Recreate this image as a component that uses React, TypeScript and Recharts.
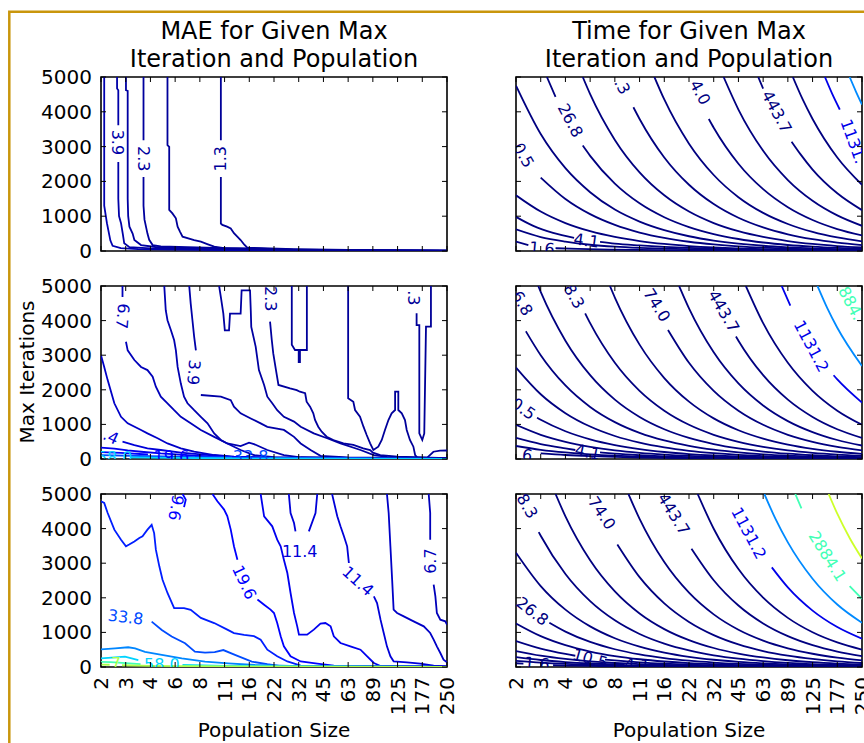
import { ComposedChart, Line, Scatter, XAxis, YAxis, ReferenceArea } from "recharts"

// population sizes, one evenly spaced slot each (log scale in the original)
const populations = ["2", "3", "4", "6", "8", "11", "16", "22", "32", "45", "63", "89", "125", "177", "250"]
const iterTicks = [0, 1000, 2000, 3000, 4000, 5000]

type Pt = [number, number] | null
type Contour = { level: number; pts: Pt[] }
type Label = { x: number; y: number; text: string; angle: number; level: number }

// contour paths as [population slot, max iterations]; null = gap under a label

// ---- MAE, first row
const maeTop: Contour[] = [
  { level: 5.1, pts: [[0.13, 5000], [0.13, 1300], [0.24, 800], [0.38, 300], [0.47, 150], [0.8, 80], [1.5, 55], [3, 40], [5, 28], [7.8, 14], [14, 4]] },
  { level: 3.9, pts: [[0.65, 5000], [0.65, 4670], [0.7, 4620], [0.7, 3610], null, [0.7, 2560], [0.7, 1500], [0.73, 1000], [0.81, 800], [0.88, 500], [0.94, 220], [1.15, 110], [2, 75], [4, 50], [6, 36], [7.8, 20], [14, 6]] },
  { level: 3.0, pts: [[1.01, 5000], [1.01, 4620], [1.08, 4600], [1.08, 1500], [1.1, 1000], [1.15, 700], [1.28, 500], [1.35, 315], [1.62, 170], [2.2, 115], [4, 75], [6, 50], [7.8, 27], [14, 8]] },
  { level: 2.3, pts: [[1.72, 5000], [1.72, 3180], null, [1.72, 2130], [1.72, 1300], [1.76, 900], [1.88, 500], [1.95, 320], [2.09, 170], [2.42, 130], [3.5, 110], [5, 85], [6.5, 65], [7.8, 34], [14, 10]] },
  { level: 1.7, pts: [[2.69, 5000], [2.69, 3040], [2.76, 2990], [2.76, 1180], [2.89, 1080], [3.03, 940], [3.1, 700], [3.2, 550], [3.3, 410], [3.77, 315], [4.04, 270], [4.3, 200], [4.58, 125], [4.98, 80], [6, 70], [7.8, 42], [10, 25], [14, 11]] },
  { level: 1.3, pts: [[4.85, 5000], [4.85, 3180], null, [4.85, 2130], [4.85, 790], [4.91, 750], [5.1, 700], [5.25, 650], [5.38, 510], [5.65, 315], [5.8, 180], [5.92, 95], [6.5, 80], [7.8, 50], [10, 30], [14, 12]] },
]
const maeTopLabels: Label[] = [
  { x: 0.67, y: 3120, text: "3.9", angle: 90, level: 3.9 },
  { x: 1.73, y: 2650, text: "2.3", angle: 90, level: 2.3 },
  { x: 4.85, y: 2650, text: "1.3", angle: -90, level: 1.3 },
]

// ---- MAE, second row
const maeMid: Contour[] = [
  { level: 8.8, pts: [[0, 3000], [0.13, 2660], [0.27, 2280], [0.54, 1610], [0.81, 1220], [1.08, 1030], [1.62, 840], [1.88, 740], [2.29, 600], [2.69, 450], [3.23, 310], [3.77, 210], [4.58, 115], [5.38, 67], [7, 40], [10, 25], [14, 12]] },
  { level: 6.7, pts: [[0.87, 5000], [0.87, 4680], null, [1.01, 3390], [1.08, 3140], [1.35, 2860], [1.62, 2660], [1.88, 2570], [2.09, 2380], [2.22, 2090], [2.42, 1800], [2.69, 1610], [2.96, 1410], [3.23, 1220], [3.63, 1030], [4.04, 840], [4.58, 640], [5.11, 450], [5.65, 260], [6.19, 115], [7, 55], [10, 30], [14, 14]] },
  { level: 5.1, pts: [[2.56, 5000], [2.62, 4300], [2.69, 4010], [2.83, 3720], [2.96, 3430], [3.03, 3140], [3.1, 2660], [3.23, 2180], [3.36, 1800], [3.5, 1610], [3.77, 1410], [4.04, 1220], [4.31, 1030], [4.58, 740], [4.85, 550], [5.11, 450], [5.65, 375], [5.99, 470], [6.19, 430], [6.73, 260], [7.4, 115], [8.08, 50], [10, 35], [14, 16]] },
  { level: 3.9, pts: [[3.57, 5000], [3.63, 4490], [3.7, 4010], [3.77, 3530], [3.84, 3140], null, [4.04, 1850], [4.85, 1800], [5.25, 1700], [5.38, 1510], [5.65, 1320], [6.06, 1170], [6.46, 1030], [6.73, 930], [7.4, 840], [7.81, 640], [8.08, 450], [8.48, 260], [8.88, 90], [10, 45], [14, 18]] },
  { level: 3.0, pts: [[4.78, 5000], [4.85, 4680], [4.95, 4200], [5.01, 3720], [5.18, 3720], [5.22, 4200], [5.65, 4200], [5.69, 4875], [6.03, 4875], [6.06, 4300], [6.08, 3820], [6.26, 3240], [6.39, 2570], [6.6, 2140], [6.73, 1800], [6.93, 1610], [7.13, 1410], [7.4, 1220], [7.81, 1080], [8.08, 930], [8.61, 740], [9.15, 600], [9.69, 450], [10.5, 260], [11.04, 115], [11.57, 60], [14, 20]] },
  { level: 2.3, pts: [[6.84, 3970], [6.91, 3440], [6.97, 3050], [7.08, 2570], [7.18, 2140], [7.65, 2040], [7.92, 1990], [8.05, 1945], [8.26, 1900], [8.32, 1656], [8.46, 1512], [8.59, 1321], [8.66, 1127], [8.79, 934], [8.93, 789], [9.13, 645], [9.4, 549], [9.81, 454], [10.21, 405], [10.61, 309], [10.89, 260], [11.0, 182], [11.3, 110], [12, 70], [14, 25]] },
  { level: 1.7, pts: [[7.72, 5000], [7.72, 3300], [7.85, 3150], [8.0, 3150], [8.0, 2800], [8.05, 2800], [8.05, 3150], [8.33, 3150], [8.33, 5000]] },
  { level: 1.7, pts: [[10.0, 5000], [10.0, 1754], [10.21, 1656], [10.28, 1416], [10.48, 1223], [10.62, 934], [10.75, 694], [10.89, 453], [11.02, 260], [11.22, 356], [11.36, 549], [11.49, 838], [11.63, 1127], [11.76, 1320], [11.9, 1416], [11.9, 1945], [12.03, 1945], [12.03, 1416], [12.17, 1320], [12.3, 1127], [12.37, 838], [12.5, 549], [12.64, 356], [12.71, 116], [12.8, 40], [13.2, 40], [13.45, 210], [13.72, 240], [14, 245]] },
  { level: 1.3, pts: [[12.77, 4210], [12.77, 3870], [12.88, 3870], [12.88, 740], [13.0, 549], [13.08, 740], [13.15, 3825], [13.35, 3825], [13.35, 5000]] },
  { level: 11.4, pts: [[0.87, 500], [1.35, 404], [1.88, 308], [2.42, 260], [3.23, 183], [4.04, 135], [5.38, 50], [7, 32], [10, 18], [14, 8]] },
  { level: 15.0, pts: [[0, 330], [0.54, 300], [1.08, 250], [1.62, 210], [2.42, 160], [3.5, 110], [4.5, 70], [6, 38], [8, 22], [11, 12], [14, 5]] },
  { level: 19.6, pts: [[0, 200], [0.8, 175], [1.9, 130], null, [3.8, 70], [5, 50], [7, 28], [10, 14], [14, 5]] },
  { level: 33.8, pts: [[0, 110], [2, 80], [4, 55], [5.3, 45], null, [6.8, 25], [9, 14], [14, 4]] },
  { level: 58.0, pts: [[1.2, 45], [3, 30], [6, 15], [10, 8], [14, 3]] },
]
const maeMidLabels: Label[] = [
  { x: 0.87, y: 4130, text: "6.7", angle: 95, level: 6.7 },
  { x: 3.75, y: 2500, text: "3.9", angle: 95, level: 3.9 },
  { x: 6.87, y: 4630, text: "2.3", angle: 90, level: 2.3 },
  { x: 12.64, y: 4660, text: ".3", angle: 90, level: 1.3 },
  { x: 0.4, y: 640, text: ".4", angle: 25, level: 11.4 },
  { x: 0.55, y: 55, text: "58.0", angle: 0, level: 58.0 },
  { x: 2.85, y: 75, text: "19.6", angle: 0, level: 19.6 },
  { x: 6.05, y: 60, text: "33.8", angle: 0, level: 33.8 },
]

// ---- MAE, third row
const maeLow: Contour[] = [
  { level: 25.7, pts: [[0, 4790], [0.13, 4740], [0.27, 4450], [0.54, 3970], [0.81, 3680], [1.01, 3490], [1.14, 3540], [1.35, 3630], [1.55, 3730], [1.68, 3780], [1.88, 3970], [2.05, 4110], [2.15, 3870], [2.22, 3390], [2.36, 2910], [2.49, 2520], [2.69, 2140], [2.96, 1700], [3.36, 1700], [3.63, 1650], [4.04, 1420], [4.58, 1270], [5.11, 1080], [5.38, 980], [5.79, 930], [6.19, 890], [6.46, 790], [6.73, 500], [7.13, 310], [7.54, 160], [8.08, 40], [10, 20], [14, 8]] },
  { level: 19.6, pts: [[3.3, 5000], [3.43, 4840], [3.36, 4620]] },
  { level: 19.6, pts: [[4.51, 5000], [4.71, 4790], [4.98, 4550], [5.11, 4360], [5.25, 3970], [5.38, 3490], [5.52, 3100], null, [6.33, 1950], [6.6, 1800], [6.86, 1660], [7.0, 1560], [7.13, 1270], [7.27, 890], [7.4, 600], [7.67, 310], [8.08, 160], [8.75, 100], [9.42, 40], [14, 10]] },
  { level: 15.0, pts: [[6.46, 5000], [6.6, 4355], [6.93, 4066], [7.13, 3680], [7.27, 3488], [7.4, 3102], [7.54, 2717], [7.67, 2139], [7.81, 1561], [7.94, 1175], [8.01, 934], [8.34, 934], [8.61, 1079], [8.88, 1252], [9.08, 1272], [9.29, 1175], [9.42, 886], [9.69, 694], [10.09, 597], [10.5, 501], [10.77, 308], [11.04, 116], [11.31, 30], [14, 8]] },
  { level: 11.4, pts: [[7.6, 5000], [7.67, 4450], [7.81, 4160], [7.87, 3920], null, [8.41, 3920], [8.68, 4450], [8.75, 5000]] },
  { level: 11.4, pts: [[9.35, 5000], [9.56, 4355], [9.69, 4066], [9.83, 3777], [9.96, 3488], [10.03, 3006], null, [11.04, 2042], [11.17, 1850], [11.31, 1368], [11.44, 983], [11.57, 597], [11.71, 308], [11.84, 164], [12.38, 135], [12.92, 96], [13.46, 39], [14, 19]] },
  { level: 8.8, pts: [[11.57, 5000], [11.64, 4451], [11.71, 3488], [11.78, 2524], [11.84, 1657], [11.98, 1561], [12.25, 1464], [12.65, 1320], [13.06, 1175], [13.32, 983], [13.46, 790], [13.59, 597], [13.73, 405], [13.86, 212], [14, 135]] },
  { level: 6.7, pts: [[13.26, 5000], [13.32, 4451], [13.32, 3680], null, [13.46, 2380], [13.53, 2042], [13.59, 1561], [13.73, 1368], [13.93, 1320], [14, 1224]] },
  { level: 33.8, pts: [[2.05, 1310], [2.46, 1070], [2.86, 880], [3.4, 685], [3.8, 445], [4.21, 415], [4.6, 430], [4.95, 490], [5.42, 350], [6.1, 155], [6.73, 80], [7.2, 35], [8.1, 10], [14, 2]] },
  { level: 44.3, pts: [[0, 510], [0.57, 540], [1.1, 570], [1.38, 540], [1.78, 440], [2.46, 350], [3.27, 250], [4.21, 155], [5.15, 105], [6.23, 58], [8, 25], [14, 5]] },
  { level: 58.0, pts: [[0, 250], [0.57, 280], [0.97, 300], [1.24, 250], [1.51, 200], null, [3.3, 60], [5, 35], [8, 15], [14, 3]] },
  { level: 76.0, pts: [[0, 150], [0.4, 140], [1.0, 110], [1.6, 85], null, [3.3, 40], [5, 25], [8, 10], [14, 2]] },
  { level: 99.6, pts: [[0, 70], [0.35, 65], null, [0.85, 50], [2, 35], [4, 20], [8, 8], [14, 2]] },
]
const maeLowLabels: Label[] = [
  { x: 3.03, y: 4600, text: "9.6", angle: 100, level: 19.6 },
  { x: 5.8, y: 2450, text: "19.6", angle: 65, level: 19.6 },
  { x: 8.04, y: 3340, text: "11.4", angle: 0, level: 11.4 },
  { x: 10.4, y: 2480, text: "11.4", angle: 42, level: 11.4 },
  { x: 13.33, y: 3060, text: "6.7", angle: -90, level: 6.7 },
  { x: 1.0, y: 1440, text: "33.8", angle: 7, level: 33.8 },
  { x: 2.46, y: 75, text: "58.0", angle: 0, level: 58.0 },
  { x: 0.6, y: 95, text: "7", angle: 0, level: 99.6 },
]

// ---- Time, first row
const timeTop: Contour[] = [
  { level: 1806, pts: [[13.5, 5000], [13.75, 4590], [14, 4208]] },
  { level: 1131.2, pts: [[12.5, 5000], [12.8, 4507], [13.1, 4065]] },
  { level: 709, pts: [[11.2, 5000], [11.6, 4354], [12, 3794], [13, 2687], [14, 1903]] },
  { level: 443.7, pts: [[9.8, 5000], [10, 4666], null, [11.15, 3140], [11.5, 2790], [12, 2340], [13, 1658], [14, 1174]] },
  { level: 278, pts: [[8.4, 5000], [9, 4065], [10, 2879], [11, 2039], [12, 1444], [13, 1023], [14, 724]] },
  { level: 174, pts: [[7.8, 3794], [8, 3541], [9, 2508], [10, 1776], [11, 1258], [12, 891], [13, 631], [14, 447]] },
  { level: 109, pts: [[5.6, 5000], [6, 4354], [7, 3084], [8, 2184], [9, 1547], [10, 1095], [11, 776], [12, 549], [13, 389], [14, 276]] },
  { level: 68.3, pts: [[4.75, 4130], [5, 3794], [6, 2687], [7, 1903], [8, 1348], [9, 954], [10, 676], [11, 479], [12, 339], [13, 240], [14, 170]] },
  { level: 42.8, pts: [[2.7, 5000], [3, 4507], [4, 3192], [5, 2260], [6, 1601], [7, 1134], [8, 803], [9, 569], [10, 403], [11, 285], [12, 202], [13, 143], [14, 101]] },
  { level: 26.8, pts: [[1.25, 5000], [1.6, 4430], null, [2.7, 3030], [3, 2734], [4, 1936], [5, 1371], [6, 971], [7, 688], [8, 487], [9, 345], [10, 244], [11, 173], [12, 123], [13, 87], [14, 61]] },
  { level: 16.8, pts: [[0, 4750], [1, 3360], [2, 2380], [3, 1690], [4, 1190], [5, 846], [6, 600], [7, 424], [8, 300], [9, 213], [10, 151], [11, 107], [12, 76], [13, 54], [14, 38]] },
  { level: 10.5, pts: [[1, 2110], [2, 1495], [3, 1059], [4, 750], [5, 531], [6, 376], [7, 266], [8, 189], [9, 134], [10, 95], [11, 67], [12, 47], [13, 34], [14, 24]] },
  { level: 6.6, pts: [[0, 1601], [1, 1134], [2, 803], [3, 569], [4, 403], [5, 285], [6, 202], [7, 143], [8, 101], [9, 72], [10, 51], [11, 36], [12, 25], [13, 18], [14, 13]] },
  { level: 4.1, pts: [[0, 980], [0.7, 720], [1.5, 520], [2.35, 380], null, [3.4, 260], [4, 210], [5, 160], [6, 120], [7, 88], [8, 64], [10, 32], [12, 16], [14, 8]] },
  { level: 2.6, pts: [[0, 620], [1, 400], [2, 270], [3, 180], [4, 125], [5, 90], [6, 66], [8, 38], [10, 20], [14, 5]] },
  { level: 1.6, pts: [[0, 270], [0.5, 170], null, [1.6, 80], [2.5, 60], [4, 40], [7, 20], [14, 3]] },
]
const timeTopLabels: Label[] = [
  { x: 2.2, y: 3750, text: "26.8", angle: 62, level: 26.8 },
  { x: 4.3, y: 4730, text: ".3", angle: 62, level: 68.3 },
  { x: 7.45, y: 4560, text: "4.0", angle: 62, level: 174 },
  { x: 10.55, y: 4000, text: "443.7", angle: 62, level: 443.7 },
  { x: 13.65, y: 3150, text: "1131.", angle: 70, level: 1131.2 },
  { x: 0.3, y: 2750, text: "0.5", angle: 60, level: 10.5 },
  { x: 2.85, y: 300, text: "4.1", angle: 8, level: 4.1 },
  { x: 1.05, y: 75, text: "1.6", angle: 5, level: 1.6 },
]

// ---- Time, second row
const timeMid: Contour[] = [
  { level: 1806, pts: [[12.2, 5000], [12.6, 4354], [13, 3794], [14, 2687]] },
  { level: 1131.2, pts: [[10.75, 5000], [11.1, 4430], null, [12.85, 2420], [13, 2300], [14, 1630]] },
  { level: 709, pts: [[9.3, 5000], [10, 3927], [11, 2781], [12, 1969], [13, 1395], [14, 988]] },
  { level: 443.7, pts: [[8.9, 3541], [9, 3420], [10, 2422], [11, 1715], [12, 1215], [13, 860], [14, 609]] },
  { level: 278, pts: [[6.6, 5000], [7, 4354], [8, 3084], [9, 2184], [10, 1547], [11, 1095], [12, 776], [13, 549], [14, 389]] },
  { level: 174, pts: [[6.15, 3730], [7, 2781], [8, 1969], [9, 1395], [10, 988], [11, 700], [12, 495], [13, 351], [14, 248]] },
  { level: 109, pts: [[3.8, 5000], [4, 4666], [5, 3305], [6, 2340], [7, 1658], [8, 1174], [9, 831], [10, 589], [11, 417], [12, 295], [13, 209], [14, 148]] },
  { level: 68.3, pts: [[2.8, 4208], [3, 3927], [4, 2781], [5, 1969], [6, 1395], [7, 988], [8, 700], [9, 495], [10, 351], [11, 248], [12, 176], [13, 125], [14, 88]] },
  { level: 42.8, pts: [[0.9, 5000], [1, 4829], [2, 3420], [3, 2422], [4, 1715], [5, 1215], [6, 860], [7, 609], [8, 432], [9, 306], [10, 216], [11, 153], [12, 109], [13, 77], [14, 54]] },
  { level: 26.8, pts: [[0.4, 3690], [1, 3000], [2, 2125], [3, 1505], [4, 1066], [5, 755], [6, 535], [7, 379], [8, 268], [9, 190], [10, 134], [11, 95], [12, 68], [13, 48], [14, 34]] },
  { level: 16.8, pts: [[0, 2642], [1, 1871], [2, 1325], [3, 938], [4, 665], [5, 471], [6, 333], [7, 236], [8, 167], [9, 118], [10, 84], [11, 59], [12, 42], [13, 30], [14, 21]] },
  { level: 10.5, pts: [[0.85, 1194], [1, 1134], [2, 803], [3, 569], [4, 403], [5, 285], [6, 202], [7, 143], [8, 101], [9, 72], [10, 51], [11, 36], [12, 25], [13, 18], [14, 13]] },
  { level: 6.6, pts: [[0, 988], [1, 700], [2, 495], [3, 351], [4, 248], [5, 176], [6, 125], [7, 88], [8, 63], [9, 44], [10, 31], [11, 22], [12, 16], [14, 8]] },
  { level: 4.1, pts: [[0, 609], [1, 432], [2, 306], [2.4, 260], null, [3.4, 189], [4, 153], [5, 109], [6, 77], [7, 54], [8, 39], [10, 19], [12, 10], [14, 5]] },
  { level: 2.6, pts: [[0, 376], [1, 266], [2, 189], [3, 134], [4, 95], [5, 67], [6, 47], [7, 34], [8, 24], [10, 12], [14, 3]] },
  { level: 1.6, pts: [[1, 164], [2, 116], [3, 83], [4, 59], [5, 42], [6, 30], [8, 15], [10, 8], [14, 2]] },
]
const timeMidLabels: Label[] = [
  { x: 0.25, y: 4500, text: "6.8", angle: 60, level: 26.8 },
  { x: 2.35, y: 4700, text: "8.3", angle: 60, level: 68.3 },
  { x: 5.7, y: 4450, text: "74.0", angle: 58, level: 174 },
  { x: 8.4, y: 4270, text: "443.7", angle: 60, level: 443.7 },
  { x: 11.95, y: 3260, text: "1131.2", angle: 62, level: 1131.2 },
  { x: 13.55, y: 4500, text: "884.", angle: 62, level: 2884.1 },
  { x: 0.3, y: 1450, text: "0.5", angle: 35, level: 10.5 },
  { x: 2.9, y: 200, text: "4.1", angle: 12, level: 4.1 },
  { x: 0.45, y: 110, text: "6", angle: 10, level: 1.6 },
]

// ---- Time, third row
const timeLow: Contour[] = [
  { level: 4605, pts: [[12.65, 5000], [13, 4430], [13.5, 3730], [14, 3137]] },
  { level: 2884.1, pts: [[11.3, 5000], [11.55, 4586], null, [13.5, 2340], [14, 1969]] },
  { level: 1806, pts: [[10.05, 5000], [10.5, 4280], [11, 3603], [12, 2552], [13, 1807], [14, 1280]] },
  { level: 1131.2, pts: [[10.35, 2879], [11, 2300], [12, 1629], [13, 1154], [14, 817]] },
  { level: 709, pts: [[7.35, 5000], [8, 3996], [9, 2830], [10, 2004], [11, 1420], [12, 1005], [13, 712], [14, 504]] },
  { level: 443.7, pts: [[7.1, 3420], [8, 2508], [9, 1776], [10, 1258], [11, 891], [12, 631], [13, 447], [14, 316]] },
  { level: 278, pts: [[4.55, 5000], [5, 4281], [6, 3032], [7, 2147], [8, 1521], [9, 1077], [10, 763], [11, 540], [12, 383], [13, 271], [14, 192]] },
  { level: 174, pts: [[4.1, 3541], [5, 2596], [6, 1838], [7, 1302], [8, 922], [9, 653], [10, 462], [11, 327], [12, 232], [13, 164], [14, 116]] },
  { level: 109, pts: [[1.6, 5000], [2, 4354], [3, 3084], [4, 2184], [5, 1547], [6, 1095], [7, 776], [8, 549], [9, 389], [10, 276], [11, 195], [12, 138], [13, 98], [14, 69]] },
  { level: 68.3, pts: [[0.92, 3900], [1, 3794], [2, 2687], [3, 1903], [4, 1348], [5, 954], [6, 676], [7, 479], [8, 339], [9, 240], [10, 170], [11, 120], [12, 85], [13, 60], [14, 43]] },
  { level: 42.8, pts: [[0, 3305], [1, 2340], [2, 1658], [3, 1174], [4, 831], [5, 589], [6, 417], [7, 295], [8, 209], [9, 148], [10, 105], [11, 74], [12, 53], [13, 37], [14, 26]] },
  { level: 26.8, pts: [[1.35, 1280], [2, 1023], [3, 724], [4, 513], [5, 363], [6, 257], [7, 182], [8, 129], [9, 91], [10, 65], [11, 46], [12, 32], [13, 23], [14, 16]] },
  { level: 16.8, pts: [[0, 1258], [1, 891], [2, 631], [3, 447], [4, 316], [5, 224], [6, 159], [7, 112], [8, 80], [9, 56], [10, 40], [12, 20], [14, 10]] },
  { level: 10.5, pts: [[0, 750], [1, 531], [2, 376], [2.4, 325], null, [3.6, 216], [4, 189], [5, 134], [6, 95], [7, 67], [8, 47], [9, 34], [10, 24], [12, 12], [14, 6]] },
  { level: 6.6, pts: [[0, 462], [1, 327], [2, 232], [3, 164], [4, 116], [5, 83], [6, 59], [7, 42], [8, 30], [10, 15], [14, 4]] },
  { level: 4.1, pts: [[0, 285], [1, 202], [2, 143], [3, 101], [4, 72], [4.4, 63], null, [5.4, 44], [6, 36], [7, 25], [8, 18], [10, 9], [14, 2]] },
  { level: 2.6, pts: [[0, 176], [1, 125], [2, 88], [3, 63], [4, 44], [6, 22], [8, 11], [14, 1]] },
  { level: 1.6, pts: [[0, 109], [0.3, 98], null, [1.5, 50], [2, 42], [3, 30], [4, 21], [6, 11], [8, 5], [14, 1]] },
]
const timeLowLabels: Label[] = [
  { x: 0.45, y: 4650, text: "8.3", angle: 60, level: 68.3 },
  { x: 3.47, y: 4450, text: "74.0", angle: 56, level: 174 },
  { x: 6.38, y: 4420, text: "443.7", angle: 58, level: 443.7 },
  { x: 9.42, y: 3870, text: "1131.2", angle: 62, level: 1131.2 },
  { x: 12.6, y: 3200, text: "2884.1", angle: 58, level: 2884.1 },
  { x: 0.66, y: 1610, text: "26.8", angle: 38, level: 26.8 },
  { x: 3.0, y: 240, text: "10.5", angle: 16, level: 10.5 },
  { x: 4.9, y: 70, text: "4.1", angle: 5, level: 4.1 },
  { x: 0.85, y: 100, text: "1.6", angle: 5, level: 1.6 },
]

// jet colormap
const jetStops: Record<string, number[][]> = {
  r: [[0, 0], [0.35, 0], [0.66, 1], [0.89, 1], [1, 0.5]],
  g: [[0, 0], [0.125, 0], [0.375, 1], [0.64, 1], [0.91, 0], [1, 0]],
  b: [[0, 0.5], [0.11, 1], [0.34, 1], [0.65, 0], [1, 0]],
}
function channel(stops: number[][], v: number) {
  for (let i = 1; i < stops.length; i++) {
    if (v <= stops[i][0]) {
      const [x0, y0] = stops[i - 1]
      const [x1, y1] = stops[i]
      return y0 + ((v - x0) / (x1 - x0)) * (y1 - y0)
    }
  }
  return stops[stops.length - 1][1]
}
function jet(v: number) {
  const t = Math.max(0, Math.min(1, v))
  const c = ["r", "g", "b"].map((k) => Math.round(255 * channel(jetStops[k], t)))
  return `rgb(${c.join(",")})`
}
const maeColour = (level: number) => jet((level + 2.5) / 182.5)
const timeColour = (level: number) => jet(0.362 * Math.log(level / 880))

const FONT = "DejaVu Sans"
const PW = 346
const M = { top: 20, right: 16, bottom: 40, left: 40 }
const AXIS_W = 60
const AXIS_H = 30

function toRows(pts: Pt[]) {
  const out: { x: number; y: number | null }[] = []
  pts.forEach((p, i) => {
    if (p) out.push({ x: p[0], y: p[1] })
    else out.push({ x: (pts[i - 1] as [number, number])[0], y: null })
  })
  return out
}

type PanelProps = {
  left: number
  top: number
  h: number
  contours: Contour[]
  labels: Label[]
  colour: (l: number) => string
  curve: "linear" | "monotone"
  showY: boolean
  showX: boolean
}

function Panel({ left, top, h, contours, labels, colour, curve, showY, showX }: PanelProps) {
  const plotL = M.left + AXIS_W
  const plotR = plotL + PW
  const plotT = M.top
  const plotB = M.top + h

  const xTick = (p: any) => {
    const x = p.x
    return (
      <g>
        <line x1={x} x2={x} y1={plotB} y2={plotB - 5} stroke="#000" strokeWidth={1} />
        <line x1={x} x2={x} y1={plotT} y2={plotT + 5} stroke="#000" strokeWidth={1} />
        {showX && (
          <text
            transform={`translate(${x},${plotB + 10}) rotate(-90)`}
            textAnchor="end"
            dominantBaseline="central"
            fontSize={20}
            fontFamily={FONT}
            fill="#000"
          >
            {populations[p.payload.value]}
          </text>
        )}
      </g>
    )
  }

  const yTick = (p: any) => {
    const y = p.y
    return (
      <g>
        <line x1={plotL} x2={plotL + 5} y1={y} y2={y} stroke="#000" strokeWidth={1} />
        <line x1={plotR} x2={plotR - 5} y1={y} y2={y} stroke="#000" strokeWidth={1} />
        {showY && (
          <text x={plotL - 9} y={y} textAnchor="end" dominantBaseline="central" fontSize={20} fontFamily={FONT} fill="#000">
            {p.payload.value}
          </text>
        )}
      </g>
    )
  }

  // contour labels, clipped to the plot box like inline labels
  const labelShape = (p: any) => {
    const { cx, cy, payload } = p
    if (cx == null || cy == null) return <g />
    const lx = cx - plotL
    const ly = cy - plotT
    return (
      <svg x={plotL} y={plotT} width={PW} height={h} overflow="hidden">
        <text
          x={lx}
          y={ly}
          transform={`rotate(${payload.angle} ${lx} ${ly})`}
          textAnchor="middle"
          dominantBaseline="central"
          fontSize={16}
          fontFamily={FONT}
          fill={colour(payload.level)}
        >
          {payload.text}
        </text>
      </svg>
    )
  }

  return (
    <div style={{ position: "absolute", left: left - plotL, top: top - plotT }}>
      <ComposedChart width={plotR + M.right} height={plotB + AXIS_H + M.bottom} margin={M}>
        <XAxis
          type="number"
          dataKey="x"
          domain={[0, 14]}
          ticks={populations.map((_, i) => i)}
          interval={0}
          height={AXIS_H}
          axisLine={false}
          tickLine={false}
          tick={xTick}
          allowDataOverflow
        />
        <YAxis
          type="number"
          domain={[0, 5000]}
          ticks={iterTicks}
          interval={0}
          width={AXIS_W}
          axisLine={false}
          tickLine={false}
          tick={yTick}
          allowDataOverflow
        />
        {contours.map((c, i) => (
          <Line
            key={i}
            data={toRows(c.pts)}
            dataKey="y"
            type={curve}
            stroke={colour(c.level)}
            strokeWidth={1.8}
            dot={false}
            activeDot={false}
            connectNulls={false}
            isAnimationActive={false}
          />
        ))}
        <Scatter data={labels} dataKey="y" shape={labelShape} isAnimationActive={false} />
        <ReferenceArea x1={0} x2={14} y1={0} y2={5000} fill="none" fillOpacity={0} stroke="#000" strokeWidth={1.6} ifOverflow="visible" />
      </ComposedChart>
    </div>
  )
}

const COLS = [101, 516]
const ROWS = [
  { top: 77, h: 174 },
  { top: 286, h: 173 },
  { top: 494, h: 173 },
]

export default function App() {
  const mae = [maeTop, maeMid, maeLow]
  const maeLabels = [maeTopLabels, maeMidLabels, maeLowLabels]
  const time = [timeTop, timeMid, timeLow]
  const timeLabels = [timeTopLabels, timeMidLabels, timeLowLabels]

  return (
    <div style={{ position: "absolute", left: 0, top: 0, width: 864, height: 743, background: "#fff", overflow: "hidden" }}>
      <svg width={864} height={743} style={{ position: "absolute", left: 0, top: 0 }}>
        <path d="M9.3 743 V11.8 H864" fill="none" stroke="#c9960c" strokeWidth={2.5} />
        <g fontFamily={FONT} fill="#000" textAnchor="middle">
          <text x={274} y={38.5} fontSize={24}>MAE for Given Max</text>
          <text x={274} y={67} fontSize={24}>Iteration and Population</text>
          <text x={689} y={38.5} fontSize={24}>Time for Given Max</text>
          <text x={689} y={67} fontSize={24}>Iteration and Population</text>
          <text x={274} y={737} fontSize={20}>Population Size</text>
          <text x={689} y={737} fontSize={20}>Population Size</text>
          <text transform="translate(27,372) rotate(-90)" dominantBaseline="central" fontSize={20}>Max Iterations</text>
        </g>
      </svg>
      {ROWS.map((r, i) => (
        <Panel
          key={`mae-${i}`}
          left={COLS[0]}
          top={r.top}
          h={r.h}
          contours={mae[i]}
          labels={maeLabels[i]}
          colour={maeColour}
          curve="linear"
          showY
          showX={i === 2}
        />
      ))}
      {ROWS.map((r, i) => (
        <Panel
          key={`time-${i}`}
          left={COLS[1]}
          top={r.top}
          h={r.h}
          contours={time[i]}
          labels={timeLabels[i]}
          colour={timeColour}
          curve="monotone"
          showY={false}
          showX={i === 2}
        />
      ))}
    </div>
  )
}
